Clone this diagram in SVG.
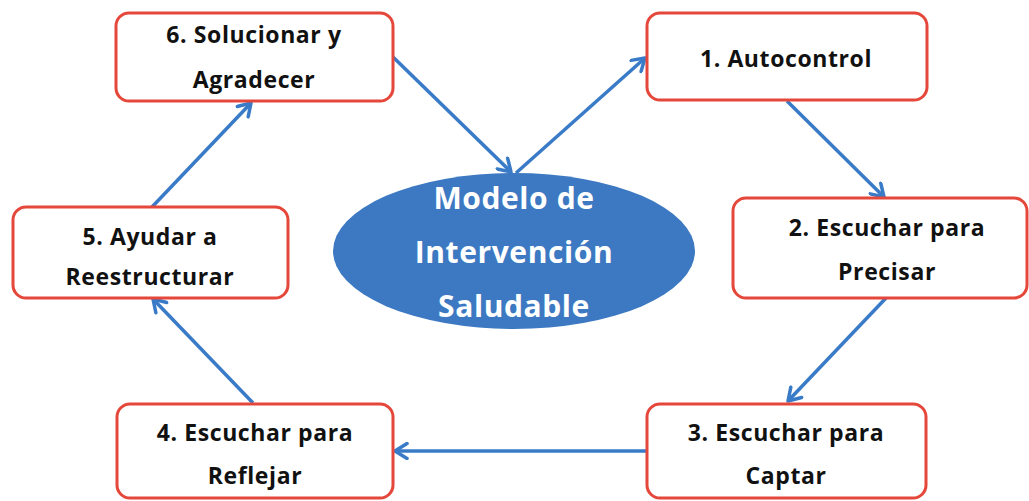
<svg xmlns="http://www.w3.org/2000/svg" width="1029" height="501" viewBox="0 0 1029 501">
<style>
.box{fill:#fff;stroke:#e5473a;stroke-width:3}
.t{font-family:"Open Sans","Noto Sans",sans-serif;font-weight:bold;font-size:23px;letter-spacing:0.6px;fill:#111;text-anchor:middle}
.c{font-family:"Open Sans","Noto Sans",sans-serif;font-weight:bold;font-size:30px;letter-spacing:0.6px;fill:#fff;text-anchor:middle}
.e{stroke:#3a7bc8;stroke-width:3.5;fill:none}
</style>
<defs>
<marker id="ah" markerUnits="userSpaceOnUse" markerWidth="18" markerHeight="18" viewBox="0 0 18 18" refX="15" refY="9" orient="auto">
<path d="M3,1.5 L15,9 L3,16.5" fill="none" stroke="#3a7bc8" stroke-width="3.5" stroke-linecap="round" stroke-linejoin="round"/>
</marker>
</defs>
<rect width="1029" height="501" fill="#fff"/>
<g id="connectors">
<line class="e" x1="393" y1="57" x2="511" y2="172" marker-end="url(#ah)"/>
<line class="e" x1="516" y1="173" x2="645" y2="58" marker-end="url(#ah)"/>
<line class="e" x1="787" y1="101" x2="884" y2="197" marker-end="url(#ah)"/>
<line class="e" x1="886" y1="298" x2="788" y2="401" marker-end="url(#ah)"/>
<line class="e" x1="647" y1="451" x2="395" y2="451" marker-end="url(#ah)"/>
<line class="e" x1="253" y1="403" x2="153" y2="299" marker-end="url(#ah)"/>
<line class="e" x1="152" y1="207" x2="251" y2="103" marker-end="url(#ah)"/>
</g>
<g id="center">
<ellipse cx="514" cy="251" rx="181" ry="78" fill="#3c79c2"/>
<text class="c" x="514" y="209">Modelo de</text>
<text class="c" x="514" y="263">Intervención</text>
<text class="c" x="514" y="317">Saludable</text>
</g>
<g id="n1">
<rect class="box" x="647" y="13" width="280" height="87" rx="13"/>
<text class="t" x="786" y="67">1. Autocontrol</text>
</g>
<g id="n2">
<rect class="box" x="733" y="198" width="294" height="100" rx="13"/>
<text class="t" x="887" y="236">2. Escuchar para</text>
<text class="t" x="887" y="280">Precisar</text>
</g>
<g id="n3">
<rect class="box" x="647" y="404" width="279" height="94" rx="13"/>
<text class="t" x="786" y="441">3. Escuchar para</text>
<text class="t" x="786" y="484">Captar</text>
</g>
<g id="n4">
<rect class="box" x="117" y="404" width="276" height="94" rx="13"/>
<text class="t" x="255" y="441">4. Escuchar para</text>
<text class="t" x="255" y="484">Reflejar</text>
</g>
<g id="n5">
<rect class="box" x="13" y="207" width="275" height="91" rx="13"/>
<text class="t" x="150" y="245">5. Ayudar a</text>
<text class="t" x="150" y="285">Reestructurar</text>
</g>
<g id="n6">
<rect class="box" x="116" y="13" width="277" height="88" rx="13"/>
<text class="t" x="254" y="43">6. Solucionar y</text>
<text class="t" x="254" y="88">Agradecer</text>
</g>
</svg>
